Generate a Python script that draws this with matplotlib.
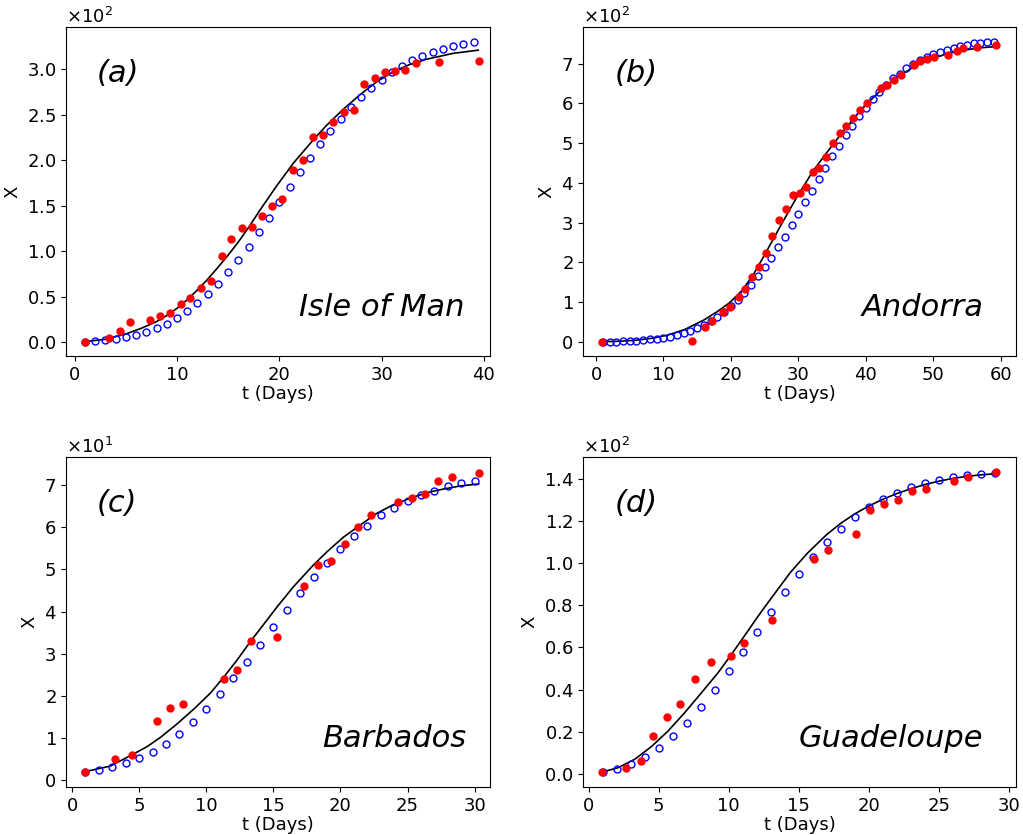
import numpy as np
import matplotlib.pyplot as plt

# (a) Isle of Man
a_day_obs = [1.0, 3.35, 4.4, 5.4, 7.4, 8.3, 9.35, 10.4, 11.3, 12.35, 13.3, 14.4, 15.3, 16.35,
             17.3, 18.3, 19.3, 20.3, 21.3, 22.3, 23.3, 24.3, 25.3, 26.35, 27.3, 28.3, 29.35,
             30.3, 31.3, 32.3, 33.35, 35.6, 39.5]
a_obs = [0.4, 4.8, 12.5, 22.4, 24, 28.6, 31.5, 41.4, 48.8, 59.8, 67, 94.6, 113, 125, 126.5,
         138.6, 149.6, 157.7, 189.6, 200.6, 225.9, 227.7, 241.7, 253.4, 255.6, 283.8, 290.8,
         296.7, 298, 299.6, 307, 308, 309]
a_day_sim = list(range(1, 40))
a_sim = [0.4, 1.1, 1.8, 3.3, 5.1, 7.3, 10.6, 15.0, 20.2, 26.4, 33.7, 42.9, 52.8, 64.2, 76.6,
         90.2, 104.9, 120.6, 136.8, 153.6, 170.2, 186.7, 202.4, 217.8, 232.1, 245.7, 258.2,
         269.5, 279.8, 288.6, 296.7, 303.6, 309.9, 315.0, 319.4, 322.7, 326.0, 328.2, 330.0]
a_day_fit = [1, 3, 5, 6.5, 8, 9, 10, 11, 12, 13, 14, 15, 16, 17, 18.1, 19.7, 21.4, 23.3,
             24.6, 26.25, 27.9, 29.5, 31.1, 32.7, 34.4, 37, 39.45]
a_fit = [0.4, 2.9, 8.8, 15, 22.4, 29, 37, 46.5, 57.2, 69, 82, 95.5, 110, 126, 144.8, 171,
         197, 222, 238, 256, 272, 286, 297, 305, 311, 317.5, 321]

# (b) Andorra
b_day_obs = [0.94, 14.3, 16.1, 17.15, 18.8, 19.9, 21.2, 22.1, 23.1, 24.2, 25.2, 26.1, 27.1,
             28.1, 29.2, 30.2, 31.1, 32.1, 33.1, 34.1, 35.1, 36.1, 37.1, 38.1, 39.1, 40.1,
             42.2, 43.2, 44.2, 45.2, 47.2, 48.1, 49.1, 50.1, 52.2, 53.5, 54.4, 56.45, 59.3]
b_obs = [0, 1, 37.8, 52, 74.7, 88, 112.5, 131.8, 162.9, 187, 222.5, 266, 307, 333, 369, 375,
         389.6, 427, 438, 466, 501, 525, 544, 563, 583, 601, 638, 646, 659, 672.5, 696, 706,
         712, 717, 723, 731, 739, 742, 746]
b_day_sim = list(range(1, 60))
b_sim = [0, 0, 0, 0.8, 1.7, 2.5, 4.2, 5.9, 7.6, 10.1, 12.6, 16.8, 21, 26.9, 35.3, 42, 52.9,
         63, 75.6, 89.8, 105, 122, 143, 164.6, 187.2, 211.6, 237.6, 264.5, 293, 322, 351, 380,
         409, 438, 467, 494, 520, 544, 568, 589, 610, 629, 646, 663, 675, 688, 699, 709, 717,
         724, 730, 735, 740, 744, 747, 751, 752, 754, 755]
b_day_fit = [1, 3.5, 5.8, 8.25, 10.7, 13.2, 16.0, 18.0, 19.8, 21.6, 23.3, 25.1, 27.3, 29.5,
             32.1, 34.2, 36.2, 38.2, 40.1, 42.1, 44.6, 47.1, 49.5, 52.0, 54.5, 56.9, 59.3]
b_fit = [0, 1.2, 3.4, 8.4, 16.8, 31, 54.6, 76, 98, 128, 168, 222, 290, 356, 428, 476, 520,
         562, 598, 631, 665, 692, 711, 725, 734, 740, 743]

# (c) Barbados
c_day_obs = [0.99, 3.2, 4.44, 6.3, 7.3, 8.3, 11.3, 12.3, 13.3, 15.3, 17.3, 18.3, 19.3, 20.3,
             21.3, 22.3, 24.3, 25.3, 26.3, 27.3, 28.3, 30.3]
c_obs = [2, 5, 6, 14, 17, 18, 24, 26, 33, 34, 46, 51, 52, 56, 60, 63, 66, 67, 68, 71, 72, 73]
c_day_sim = list(range(1, 31))
c_sim = [1.9, 2.4, 3.1, 4.0, 5.2, 6.7, 8.6, 10.9, 13.7, 16.9, 20.4, 24.1, 28.0, 32.1, 36.3,
         40.3, 44.3, 48.1, 51.6, 54.9, 57.9, 60.4, 62.8, 64.6, 66.3, 67.6, 68.7, 69.8, 70.5, 71.0]
c_day_fit = [0.99, 2.85, 4.42, 5.58, 6.58, 7.82, 9.06, 10.3, 11.3, 12.3, 13.3, 14.0, 15.3,
             16.5, 18.0, 19.0, 20.2, 21.5, 22.7, 23.9, 25.2, 26.4, 27.7, 28.9, 30.3]
c_fit = [2.0, 3.3, 5.9, 7.9, 10.1, 13.3, 16.8, 20.6, 24.4, 28.5, 32.9, 35.8, 41.2, 45.9, 51.1,
         54.2, 57.6, 60.6, 63.3, 65.3, 66.9, 68.2, 69.1, 69.8, 70.3]

# (d) Guadeloupe
d_day_obs = [0.95, 2.67, 3.76, 4.6, 5.58, 6.55, 7.58, 8.7, 10.15, 11.1, 13.1, 16.1, 17.1,
             19.1, 20.06, 21.1, 22.1, 23.1, 24.1, 26.1, 27.1, 29.07]
d_obs = [1, 3, 6, 18, 27, 33, 45, 53, 56, 62, 73, 102, 106, 114, 125, 128, 130, 134, 135, 139,
         141, 143]
d_day_sim = list(range(1, 30))
d_sim = [1, 2.5, 4.9, 8.2, 12.5, 17.9, 24.2, 31.6, 39.8, 48.7, 57.8, 67.3, 76.8, 86.1, 94.8,
         103, 110, 116.3, 121.8, 126.4, 130.3, 133.2, 136.0, 137.9, 139.5, 140.8, 141.7, 142.3,
         142.8]
d_day_fit = [0.95, 2.1, 3.29, 4.48, 5.67, 6.86, 8.05, 9.24, 10.1, 11.15, 12.1, 12.8, 14.4,
             15.6, 17, 18, 19, 20, 21, 22, 23, 24, 25, 26, 27, 28, 29]
d_fit = [0.9, 3.0, 7.0, 13.0, 20.4, 29.1, 38.5, 48.0, 55.8, 65.7, 74.8, 81.2, 95.5, 104.5,
         113.5, 118.8, 123.3, 127.0, 130.2, 132.9, 135.2, 137.2, 138.8, 140.1, 141.1, 141.8,
         142.3]

panels = [
    ("(a)", "Isle of Man", a_day_obs, a_obs, a_day_sim, a_sim, a_day_fit, a_fit,
     [0.0645, 0.5737, 0.4145, 0.394], (-0.85, 40.6), (-15.4, 346.5),
     range(0, 41, 10), np.arange(0, 301, 50), 0.941),
    ("(b)", "Andorra", b_day_obs, b_obs, b_day_sim, b_sim, b_day_fit, b_fit,
     [0.5699, 0.5737, 0.4233, 0.394], (-1.93, 62.27), (-36, 792.5),
     range(0, 61, 10), np.arange(0, 701, 100), 0.924),
    ("(c)", "Barbados", c_day_obs, c_obs, c_day_sim, c_sim, c_day_fit, c_fit,
     [0.0645, 0.0575, 0.4145, 0.395], (-0.45, 31.14), (-1.66, 76.65),
     range(0, 31, 5), np.arange(0, 71, 10), 0.943),
    ("(d)", "Guadeloupe", d_day_obs, d_obs, d_day_sim, d_sim, d_day_fit, d_fit,
     [0.5699, 0.0575, 0.4233, 0.395], (-0.41, 30.53), (-6.16, 150.2),
     range(0, 31, 5), np.arange(0, 141, 20), 0.924),
]

fig = plt.figure(figsize=(10.23, 8.35), dpi=100)

for tag, name, xo, yo, xs, ys, xf, yf, pos, xl, yl, xt, yt, nx in panels:
    ax = fig.add_axes(pos)
    ax.plot(xf, yf, color="black", lw=1.2, zorder=1)
    ax.plot(xs, ys, "o", ms=5, mfc="none", mec="blue", mew=1.0, zorder=2)
    ax.plot(xo, yo, "o", ms=5, color="red", zorder=3)
    ax.set_xlim(*xl)
    ax.set_ylim(*yl)
    ax.set_xticks(list(xt))
    ax.set_yticks(list(yt))
    ax.ticklabel_format(axis="y", style="sci", scilimits=(0, 0), useMathText=True)
    ax.yaxis.get_offset_text().set_fontsize(13)
    ax.tick_params(labelsize=13)
    ax.set_xlabel("t (Days)", fontsize=13, labelpad=1)
    ax.set_ylabel("X", fontsize=13)
    ax.text(0.073, 0.86, tag, transform=ax.transAxes, fontsize=22, style="italic",
            ha="left", va="center")
    ax.text(nx, 0.147, name, transform=ax.transAxes, fontsize=22, style="italic",
            ha="right", va="center")

plt.savefig("out.png", dpi=100)
